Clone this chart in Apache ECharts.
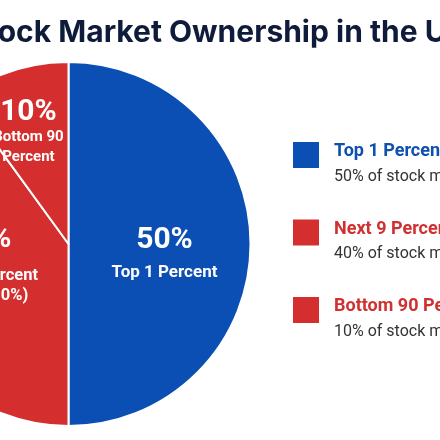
<!DOCTYPE html>
<html><head><meta charset="utf-8">
<script src="https://cdn.jsdelivr.net/npm/echarts@6/dist/echarts.min.js"></script>
<style>html,body{margin:0;padding:0;background:#fff}#c{width:440px;height:440px}</style>
</head><body><div id="c"></div>
<script>
const titleText = 'Stock Market Ownership in the U.S.';
const categories = ['Top 1 Percent', 'Next 9 Percent', 'Bottom 90 Percent'];
const values = [50, 40, 10];
const sliceSubtitles = ['Top 1 Percent', 'Next 9 Percent\n(Top 2-10%)', 'Bottom 90\nPercent'];
const legendDescriptions = ['50% of stock market', '40% of stock market', '10% of stock market'];
const colors = ['#0b4fb4', '#d42e2e', '#d42e2e'];
const legendTextColors = ['#0d50b0', '#d03030', '#d03030'];

const TITLE_FONT = 'bold 30px Inter';
const mctx = document.createElement('canvas').getContext('2d');
mctx.font = TITLE_FONT;
const titleLeft = -(mctx.measureText('St').width + 2);

const chart = echarts.init(document.getElementById('c'), null, {renderer: 'canvas'});
const legendRich = {
  e: {fontSize: 10, lineHeight: 18},
  d: {fontFamily: 'Roboto', fontSize: 16, color: '#333333', lineHeight: 25}
};
legendTextColors.forEach((c, i) => {
  legendRich['t' + i] = {fontFamily: 'Roboto', fontSize: 18, fontWeight: 'bold', color: c, lineHeight: 25};
});
const labelRich = {};
[46, 54, 30].forEach((lh, i) => {
  labelRich['p' + i] = {fontFamily: 'Roboto', fontSize: 30, fontWeight: 'bold', color: '#ffffff', lineHeight: lh, align: 'center'};
});
[17, 16.5, 15].forEach((fs, i) => {
  labelRich['s' + i] = {fontFamily: 'Roboto', fontSize: fs, fontWeight: 'bold', color: '#ffffff', lineHeight: 20, align: 'center'};
});
const labelOffsets = [[2, 6], [4, -14], [-11, -22]];

chart.setOption({
  animation: false,
  backgroundColor: '#ffffff',
  title: {
    text: titleText,
    left: titleLeft,
    top: 18,
    padding: 0,
    textStyle: {fontFamily: 'Inter', fontSize: 30, fontWeight: 'bold', color: '#0f1b3b'}
  },
  legend: {
    orient: 'vertical',
    left: 291,
    top: 125,
    padding: 0,
    itemWidth: 28,
    itemHeight: 28,
    itemGap: 18,
    icon: 'rect',
    selectedMode: false,
    data: categories,
    formatter: function (name) {
      const i = categories.indexOf(name);
      return '{e| }\n{t' + i + '|' + name + '}\n{d|' + legendDescriptions[i] + '}';
    },
    textStyle: {padding: [0, 0, 0, 9], rich: legendRich}
  },
  series: [{
    type: 'pie',
    center: [68.5, 244],
    radius: [0, 182],
    startAngle: 90,
    clockwise: true,
    data: categories.map((n, i) => ({name: n, value: values[i], itemStyle: {color: colors[i]}})),
    itemStyle: {borderColor: '#ffffff', borderWidth: 2},
    label: {
      show: true,
      position: 'inside',
      formatter: function (p) {
        const k = p.dataIndex;
        const lines = sliceSubtitles[k].split('\n').map(s => '{s' + k + '|' + s + '}');
        return '{p' + k + '|' + p.value + '%}\n' + lines.join('\n');
      },
      rich: labelRich
    },
    labelLine: {show: false},
    labelLayout: function (params) {
      const o = labelOffsets[params.dataIndex];
      return {dx: o[0], dy: o[1]};
    },
    emphasis: {disabled: true}
  }]
});
</script></body></html>
